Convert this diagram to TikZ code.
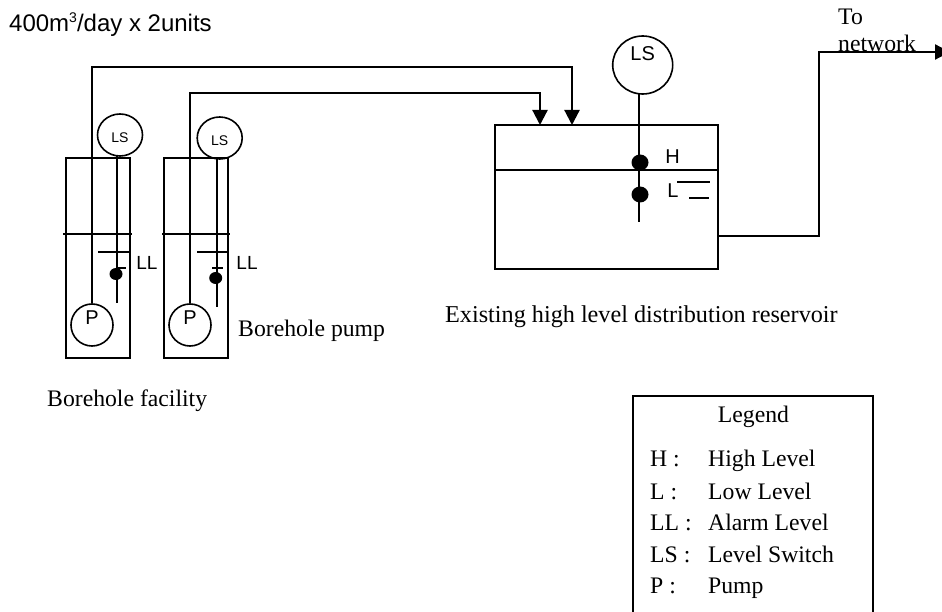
\documentclass[tikz,border=0pt]{standalone}
\usepackage{fontspec}
\setmainfont{Liberation Serif}
\setsansfont{Liberation Sans}
\usetikzlibrary{arrows.meta,shapes.geometric}
\tikzset{
  wall/.style={draw,line width=1.6pt,rectangle,inner sep=0pt},
  pipe/.style={line width=2.2pt},
  pipein/.style={pipe,-{Triangle[length=15pt,width=15pt]}},
  stem/.style={line width=1.8pt},
  level/.style={line width=1.6pt},
  float/.style={fill=black,ellipse,inner sep=0pt},
  lsbig/.style={draw,line width=1.6pt,ellipse,inner sep=0pt,minimum width=60pt,minimum height=58pt,font=\sffamily\fontsize{20}{20}\selectfont,text depth=22pt},
  lssmall/.style={draw,line width=1.6pt,ellipse,inner sep=0pt,minimum width=45pt,minimum height=42pt,font=\sffamily\fontsize{14}{14}\selectfont,text height=16pt},
  pump/.style={draw,line width=1.6pt,circle,inner sep=0pt,minimum size=42pt,font=\sffamily\fontsize{20}{20}\selectfont,text depth=14pt},
  sans/.style={font=\sffamily\fontsize{19}{19}\selectfont,inner sep=0pt},
  serif/.style={font=\rmfamily\fontsize{23.7}{24}\selectfont,inner sep=0pt,anchor=base west},
}
\begin{document}
\begin{tikzpicture}[x=1pt,y=-1pt]
\useasboundingbox (0,0) rectangle (942,612);
% heading
\node (cap) at (9,32) [sans,anchor=base west,font=\sffamily\fontsize{24}{24}\selectfont] {400m\raisebox{9pt}{\fontsize{14}{14}\selectfont 3}/day x 2units};
% boreholes
\node (wella) at (98,258) [wall,minimum width=64pt,minimum height=200pt] {};
\node (wellb) at (196,258) [wall,minimum width=64pt,minimum height=200pt] {};
\draw[stem] (63,234) -- (132,234);
\draw[stem] (162,234) -- (230,234);
\node (pumpa) at (92,325) [pump] {P};
\node (pumpb) at (190,325) [pump] {P};
\node (lsa) at (120,135) [lssmall] {LS};
\node (lsb) at (219.7,138) [lssmall] {LS};
\coordinate (enda) at (117,302.7);
\coordinate (endb) at (217,306.7);
\draw[stem] (117,155) -- (enda);
\draw[stem] (217,158) -- (endb);
\draw[level] (98,252) -- (129,252);
\draw[level] (197,252) -- (227,252);
\draw[level] (117,268) -- (126,268);
\draw[level] (212,268) -- (223,268);
\node (floata) at (116,274) [float,minimum width=13pt,minimum height=12pt] {};
\node (floatb) at (215.7,278) [float,minimum width=13pt,minimum height=12pt] {};
\node (lla) at (147,262.7) [sans] {LL};
\node (llb) at (247,262.7) [sans] {LL};
% reservoir
\node (res) at (606.5,197) [wall,minimum width=223pt,minimum height=144pt] {};
\draw[stem] (495,170) -- (718,170);
\coordinate (ina) at (572,125);
\coordinate (inb) at (540,125);
\draw[pipein] (pumpa.north) -- (pumpa.north |- 0,67) -| (ina);
\draw[pipein] (pumpb.north) -- (pumpb.north |- 0,93) -| (inb);
\node (lsres) at (642.7,65) [lsbig] {LS};
\coordinate (endres) at (639,222);
\draw[stem] (639,94) -- (endres);
\node (floath) at (640,162.5) [float,minimum width=17pt,minimum height=16pt] {};
\node (floatl) at (640,194.5) [float,minimum width=17pt,minimum height=16pt] {};
\node (high) at (672.7,157) [sans,font=\sffamily\fontsize{20}{20}\selectfont] {H};
\node (low) at (673,190.5) [sans,font=\sffamily\fontsize{20}{20}\selectfont] {L};
\draw[level] (677,182) -- (710,182);
\draw[level] (689,198) -- (709,198);
% outlet
\coordinate (outa) at (718,236);
\coordinate (outb) at (950,52);
\draw[pipein] (outa) -| (819,52) -- (outb);
\node (tonet) at (838,25) [serif] {To};
\node (tonetb) at (838,52) [serif] {network};
% captions
\node (capres) at (445,322) [serif,font=\rmfamily\fontsize{24.2}{24}\selectfont] {Existing high level distribution reservoir};
\node (cappump) at (238,336.5) [serif] {Borehole pump};
\node (capfac) at (47,406) [serif] {Borehole facility};
% legend
\draw[wall,line width=2pt] (633,612) |- (873,396) -- (873,612);
\node (leg) at (753.5,422) [serif,anchor=base] {Legend};
\node (lega) at (650,466.7) [serif] {H :};
\node (legb) at (650,499) [serif] {L :};
\node (legc) at (650,530) [serif] {LL :};
\node (legd) at (650,562.7) [serif] {LS :};
\node (lege) at (650,593) [serif] {P :};
\node (txta) at (708,466.7) [serif] {High Level};
\node (txtb) at (708,499) [serif] {Low Level};
\node (txtc) at (708,530) [serif] {Alarm Level};
\node (txtd) at (708,562.7) [serif] {Level Switch};
\node (txte) at (708,593) [serif] {Pump};
\end{tikzpicture}
\end{document}
